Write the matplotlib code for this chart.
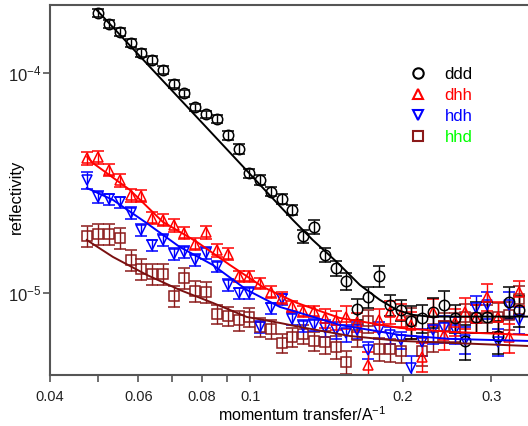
import numpy as np
import matplotlib.pyplot as plt
from matplotlib.lines import Line2D
from matplotlib.ticker import FixedLocator, NullLocator, FixedFormatter

plt.rcParams['font.family'] = ['Liberation Sans', 'DejaVu Sans']
plt.rcParams['mathtext.default'] = 'regular'

# momentum transfer grid (1/A)
q = [0.0475, 0.0499, 0.0524, 0.0551, 0.0579, 0.0608, 0.0638, 0.0671, 0.0704, 0.0740,
     0.0777, 0.0817, 0.0858, 0.0901, 0.0947, 0.0994, 0.1045, 0.1097, 0.1153, 0.1211,
     0.1272, 0.1336, 0.1404, 0.1475, 0.1549, 0.1627, 0.1710, 0.1796, 0.1886, 0.1982,
     0.2082, 0.2187, 0.2297, 0.2413, 0.2535, 0.2663, 0.2798, 0.2939, 0.3087, 0.3243, 0.3407]

# reflectivity, units of 1e-5 (ddd starts at the 2nd q point)
ddd = [18.75, 16.65, 15.27, 13.69, 12.33, 11.42, 10.29, 8.86, 8.06, 6.96,
       6.47, 6.17, 5.18, 4.50, 3.49, 3.25, 2.88, 2.66, 2.38, 1.80,
       1.995, 1.484, 1.288, 1.124, 0.839, 0.959, 1.19, 0.879, 0.834, 0.743,
       0.767, 0.818, 0.879, 0.767, 0.603, 0.778, 0.778, 0.636, 0.91, 0.834]
dhh = [4.08, 4.12, 3.61, 3.24, 2.77, 2.75, 2.19, 2.14, 2.02, 1.87,
       1.666, 1.878, 1.556, 1.504, 1.187, 1.186, 1.104, 1.007, 0.946, 0.865,
       0.821, 0.821, 0.767, 0.75, 0.778, 0.736, 0.469, 0.75, 0.819, 0.792,
       0.713, 0.512, 0.818, 0.643, 0.736, 0.817, 0.767, 0.959, 0.778, 0.626, 1.002]
hdh = [3.25, 2.73, 2.66, 2.58, 2.31, 1.93, 1.638, 1.735, 1.50, 1.531,
       1.408, 1.515, 1.313, 1.084, 0.994, 0.997, 0.70, 0.848, 0.931, 0.759,
       0.706, 0.713, 0.689, 0.677, 0.654, 0.677, 0.549, 0.677, 0.643, 0.610,
       0.453, 0.599, 0.677, 0.689, 0.677, 0.610, 0.849, 0.879, 0.599, 0.879, 0.752]
hhd = [1.81, 1.849, 1.849, 1.767, 1.408, 1.278, 1.216, 1.216, 0.966, 1.163,
       1.018, 1.007, 0.80, 0.78, 0.747, 0.775, 0.698, 0.684, 0.591, 0.629,
       0.649, 0.60, 0.597, 0.568, 0.486, 0.642, 0.743, 0.555, 0.552, 0.543,
       0.743, 0.543, 0.629, 0.704, 0.701, 0.771, 0.767, 0.767, 0.778, 0.792, 0.936]

# relative errors
ddd_rel = [0.04] * 12 + [0.05] * 7 + [0.07, 0.07, 0.07, 0.08, 0.09] + [0.11] * 5 + \
          [0.17, 0.15, 0.16, 0.16, 0.15, 0.18, 0.16, 0.16, 0.17, 0.16, 0.16]
dhh_rel = [0.065] * 14 + [0.06] * 8 + [0.10, 0.10, 0.12, 0.10, 0.14, 0.12, 0.12, 0.12] + \
          [0.14, 0.15, 0.14, 0.15, 0.14, 0.16, 0.15, 0.14, 0.16, 0.15, 0.13]
hdh_rel = [0.09] + [0.06] * 21 + [0.09] * 8 + [0.14] * 11
hhd_rel = [0.11] * 12 + [0.10] * 10 + [0.12] * 8 + [0.15] * 11

# fitted curves
ddd_fit_q = [0.0496, 0.1213, 0.1328, 0.1482, 0.1646, 0.1803, 0.1949, 0.2096, 0.2265, 0.3541]
ddd_fit_r = [19.28, 2.14, 1.735, 1.378, 1.084, 0.927, 0.834, 0.792, 0.778, 0.778]
dhh_fit_q = [0.0475, 0.0487, 0.0577, 0.0670, 0.0783, 0.0910, 0.1058, 0.1235, 0.1502, 0.1975, 0.2481, 0.3541]
dhh_fit_r = [4.14, 3.89, 2.93, 2.10, 1.70, 1.336, 1.061, 0.898, 0.767, 0.691, 0.663, 0.642]
hdh_fit_q = [0.0474, 0.0534, 0.0623, 0.0724, 0.0842, 0.0983, 0.1143, 0.1252, 0.1502, 0.1975, 0.2481, 0.3541]
hdh_fit_r = [2.99, 2.64, 2.07, 1.613, 1.336, 1.029, 0.861, 0.809, 0.713, 0.642, 0.616, 0.603]
hhd_fit_q = [0.0474, 0.0534, 0.0623, 0.0724, 0.0842, 0.0983, 0.1143, 0.1252, 0.1573, 0.1975, 0.3541]
hhd_fit_r = [1.735, 1.453, 1.204, 1.029, 0.898, 0.775, 0.728, 0.698, 0.635, 0.603, 0.572]

labels = ['ddd', 'dhh', 'hdh', 'hhd']
colors = ['black', '#ff0000', '#0000ff', '#8b1a1a']
fit_colors = ['black', '#ff0000', '#0000ff', '#7a1010']
label_colors = ['black', '#ff0000', '#0000ff', '#00ff00']
markers = ['o', '^', 'v', 's']
msizes = [7.5, 6.5, 6.5, 6.5]

fig = plt.figure(figsize=(5.28, 4.26), dpi=100)
ax = fig.add_axes([0.0938, 0.1197, 0.9127, 0.8685])

data = [(q[1:], ddd, ddd_rel), (q, dhh, dhh_rel), (q, hdh, hdh_rel), (q, hhd, hhd_rel)]
fits = [(ddd_fit_q, ddd_fit_r), (dhh_fit_q, dhh_fit_r), (hdh_fit_q, hdh_fit_r), (hhd_fit_q, hhd_fit_r)]

for k in [3, 2, 1, 0]:
    x, r, rel = data[k]
    r = np.array(r) * 1e-5
    ax.errorbar(x, r, yerr=r * np.array(rel), fmt=markers[k], mfc='none', mec=colors[k],
                ms=msizes[k], mew=1.1, ecolor=colors[k], elinewidth=1.0, capsize=4.5,
                capthick=1.0, zorder=2)
for k in [3, 2, 1, 0]:
    fq, fr = fits[k]
    ax.plot(fq, np.array(fr) * 1e-5, color=fit_colors[k], lw=1.4, zorder=3)

ax.set_xscale('log')
ax.set_yscale('log')
ax.set_xlim(0.04, 0.36)
ax.set_ylim(4.22e-6, 2.03e-4)

xt = [0.04, 0.05, 0.06, 0.07, 0.08, 0.09, 0.1, 0.2, 0.3]
xl = ['0.04', '', '0.06', '', '0.08', '', '0.1', '0.2', '0.3']
ax.xaxis.set_major_locator(FixedLocator(xt))
ax.xaxis.set_major_formatter(FixedFormatter(xl))
ax.xaxis.set_minor_locator(NullLocator())
ax.yaxis.set_major_locator(FixedLocator([1e-5, 1e-4]))
ax.yaxis.set_minor_locator(NullLocator())

for s in ['left', 'bottom', 'top']:
    ax.spines[s].set_color('#555555')
    ax.spines[s].set_linewidth(1.5)
ax.spines['right'].set_visible(False)
ax.tick_params(direction='out', length=5, width=1.2, color='#555555',
               labelsize=10.5, labelcolor='#222222', pad=6)
ax.tick_params(axis='y', labelsize=12, pad=1)

ax.set_xlabel('momentum transfer/A$^{-1}$', fontsize=11.5)
ax.xaxis.set_label_coords(0.525, -0.082)
ax.set_ylabel('reflectivity', fontsize=12)
ax.yaxis.set_label_coords(-0.053, 0.482)

handles = [Line2D([], [], ls='none', marker=markers[k], mfc='none', mec=colors[k],
                  ms=msizes[k], mew=1.5) for k in range(4)]
leg = fig.legend(handles, labels, loc='upper left', bbox_to_anchor=(393 / 528, 1 - 52 / 426),
                 frameon=False, fontsize=12, handlelength=1.2, handletextpad=1.0,
                 labelspacing=0.36)
for t, c in zip(leg.get_texts(), label_colors):
    t.set_color(c)

fig.savefig('out.png', dpi=100)
